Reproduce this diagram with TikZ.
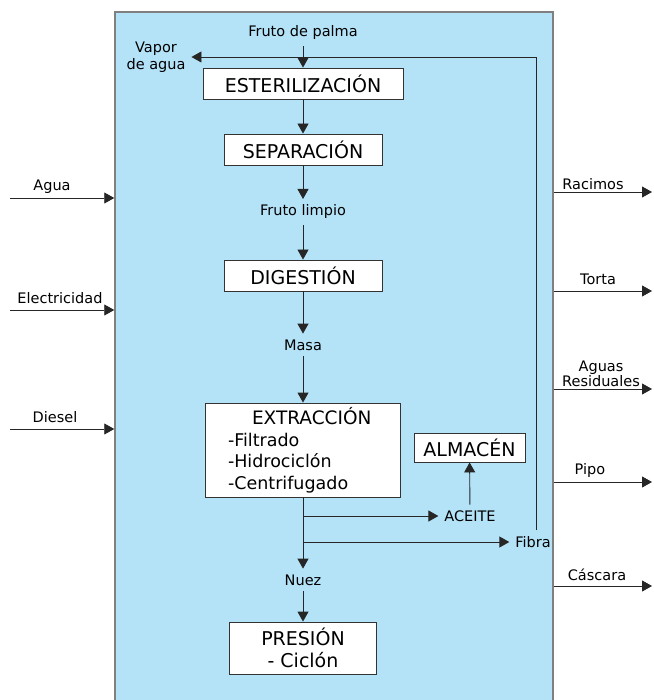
\documentclass[tikz,border=0pt]{standalone}
\usepackage{fontspec}
\setmainfont{DejaVu Sans}
\usepackage{tikz}
\usetikzlibrary{arrows.meta}
\definecolor{fondo}{RGB}{180,227,248}
\definecolor{borde}{RGB}{128,128,128}
\tikzset{
 caja/.style={rectangle,draw=black!80,fill=white,line width=0.9pt,inner sep=0pt,font=\fontsize{19}{22}\selectfont},
 etiqueta/.style={inner sep=1pt,outer sep=5pt,font=\fontsize{14.5}{17.5}\selectfont},
 flecha/.style={-{Triangle[length=10pt,width=11pt]},line width=0.9pt,black!85},
}
\begin{document}
\begin{tikzpicture}[x=1pt,y=-1pt]
 \useasboundingbox (0,0) rectangle (653,700);

 \node at (334,357) [rectangle,draw=borde,fill=fondo,line width=1.5pt,minimum width=438pt,minimum height=690pt] (planta) {};

 \node at (303,33) [etiqueta] (fruto) {Fruto de palma};
 \node at (156,57) [etiqueta,align=center] (vapor) {Vapor\\de agua};
 \node at (303,83.5) [caja,minimum width=200pt,minimum height=31pt] (ester) {ESTERILIZACIÓN};
 \node at (303,149.5) [caja,minimum width=158pt,minimum height=31pt] (sepa) {SEPARACIÓN};
 \node at (303,212) [etiqueta] (limpio) {Fruto limpio};
 \node at (303,275.5) [caja,minimum width=158pt,minimum height=31pt] (dige) {DIGESTIÓN};
 \node at (303,345) [etiqueta] (masa) {Masa};
 \node at (303,450) [caja,minimum width=195pt,minimum height=94pt,text width=150pt,align=left,font=\fontsize{17.5}{21.5}\selectfont] (extr) {\hspace*{24pt}{\fontsize{18.5}{21.5}\selectfont EXTRACCIÓN}\\-Filtrado\\-Hidrociclón\\-Centrifugado};
 \node at (469.5,447.5) [caja,minimum width=111pt,minimum height=29pt] (almacen) {ALMACÉN};
 \node at (470,516) [etiqueta] (aceite) {ACEITE};
 \node at (533,542) [etiqueta] (fibra) {Fibra};
 \node at (303,580) [etiqueta] (nuez) {Nuez};
 \node at (303,648) [caja,minimum width=147pt,minimum height=52pt,align=center] (presion) {PRESIÓN\\- Ciclón};

 % entradas
 \node at (52,187) [etiqueta] (agua) {Agua};
 \node at (60,298) [etiqueta] (elec) {Electricidad};
 \node at (55,417) [etiqueta] (diesel) {Diesel};
 \coordinate (agua0) at (10,198);
 \coordinate (elec0) at (10,310);
 \coordinate (diesel0) at (10,429);
 \draw[flecha] (agua0) -- (agua0 -| planta.west);
 \draw[flecha] (elec0) -- (elec0 -| planta.west);
 \draw[flecha] (diesel0) -- (diesel0 -| planta.west);

 % salidas
 \node at (593,184) [etiqueta] (racimos) {Racimos};
 \node at (598,279) [etiqueta] (torta) {Torta};
 \node at (601,374) [etiqueta,align=center] (aguas) {Aguas\\[-2pt]Residuales};
 \node at (590,470) [etiqueta] (pipo) {Pipo};
 \node at (597,575) [etiqueta] (cascara) {Cáscara};
 \coordinate (racimos1) at (652,192);
 \coordinate (torta1) at (652,291);
 \coordinate (aguas1) at (652,389);
 \coordinate (pipo1) at (652,482);
 \coordinate (cascara1) at (652,586);
 \draw[flecha] (planta.east |- racimos1) -- (racimos1);
 \draw[flecha] (planta.east |- torta1) -- (torta1);
 \draw[flecha] (planta.east |- aguas1) -- (aguas1);
 \draw[flecha] (planta.east |- pipo1) -- (pipo1);
 \draw[flecha] (planta.east |- cascara1) -- (cascara1);

 % proceso
 \draw[flecha] (fruto) -- (ester);
 \draw[flecha] (ester) -- (sepa);
 \draw[flecha] (sepa) -- (limpio);
 \draw[flecha] (limpio) -- (dige);
 \draw[flecha] (dige) -- (masa);
 \draw[flecha] (masa) -- (extr);
 \draw[flecha] (extr) -- (nuez);
 \draw[flecha] (nuez) -- (presion);
 \draw[flecha] (extr.south |- aceite) -- (aceite);
 \draw[flecha] (extr.south |- fibra) -- (fibra);
 \draw[flecha] (aceite) -- (almacen);
 \draw[flecha] ([xshift=3pt]fibra.north) |- (vapor);
\end{tikzpicture}
\end{document}
